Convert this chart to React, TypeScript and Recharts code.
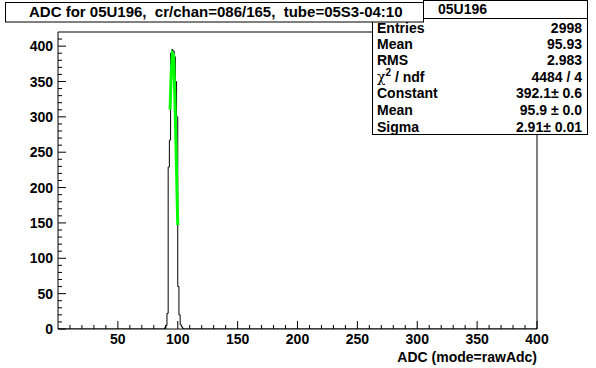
import React from "react";
import {
  ComposedChart,
  Line,
  XAxis,
  YAxis,
  ReferenceArea,
} from "recharts";

// histogram bins (lower edge) and counts, width 1 ADC
const binEdges = [89, 90, 91, 92, 93, 94, 95, 96, 97, 98, 99, 100, 101, 102, 103, 104, 105];
const binCounts = [2, 5, 22, 229, 267, 390, 395, 393, 385, 350, 300, 60, 20, 6, 3, 1, 0];

// gaussian fit curve as drawn
const fitX = [93.6, 94.5, 95.5, 96.5, 97.5, 98.5, 99.5, 100];
const fitY = [310, 360, 390, 388, 335, 262, 185, 147];

const xTicks = Array.from({ length: 40 }, (_, i) => (i + 1) * 10);
const yTicks = Array.from({ length: 42 }, (_, i) => i * 10);

const statLabels = ["Entries", "Mean", "RMS", "chi", "Constant", "Mean", "Sigma"];
const statValues = ["2998", "95.93", "2.983", "4484 / 4", "392.1\u00b1 0.6", "95.9 \u00b1 0.0", "2.91\u00b1 0.01"];

const histData = [
  { x: 0, y: 0 },
  ...binEdges.map((x, i) => ({ x, y: binCounts[i] })),
  { x: 400, y: 0 },
];
const fitData = fitX.map((x, i) => ({ x, y: fitY[i] }));

const FONT = "'Liberation Sans', Arial, sans-serif";

const XTick = (props: any) => {
  const { x, y, payload } = props;
  const major = payload.value % 50 === 0;
  return (
    <g>
      <line x1={x} x2={x} y1={y} y2={y - (major ? 8 : 4)} stroke="#000" />
      {major && (
        <text x={x} y={y + 15} textAnchor="middle" fontSize={14} fontWeight="bold" fontFamily={FONT} fill="#000">
          {payload.value}
        </text>
      )}
    </g>
  );
};

const YTick = (props: any) => {
  const { x, y, payload } = props;
  const major = payload.value % 50 === 0;
  return (
    <g>
      <line x1={x} x2={x + (major ? 8 : 4)} y1={y} y2={y} stroke="#000" />
      {major && (
        <text x={x - 5} y={y + 5} textAnchor="end" fontSize={14} fontWeight="bold" fontFamily={FONT} fill="#000">
          {payload.value}
        </text>
      )}
    </g>
  );
};

const App: React.FC = () => {
  const rowY = [32.5, 48.5, 65, 81.5, 98, 115, 132];
  return (
    <div style={{ position: "relative", width: 596, height: 368, background: "#fff" }}>
      <style>{`body{margin:0;}`}</style>
      <ComposedChart
        width={596}
        height={368}
        margin={{ top: 32, right: 59, bottom: 0, left: 8 }}
      >
        <XAxis
          type="number"
          dataKey="x"
          domain={[0, 400]}
          ticks={xTicks}
          interval={0}
          tickSize={0}
          tickMargin={0}
          tickLine={false}
          axisLine={false}
          tick={<XTick />}
          height={39}
          allowDataOverflow
        />
        <YAxis
          type="number"
          dataKey="y"
          domain={[0, 420]}
          ticks={yTicks}
          interval={0}
          tickSize={0}
          tickMargin={0}
          tickLine={false}
          axisLine={false}
          tick={<YTick />}
          width={50}
          allowDataOverflow
        />
        <ReferenceArea x1={0} x2={400} y1={0} y2={420} fill="none" fillOpacity={0} stroke="#000" strokeWidth={1} />
        <Line
          data={histData}
          dataKey="y"
          type="stepAfter"
          stroke="#000"
          strokeWidth={1}
          dot={false}
          isAnimationActive={false}
        />
        <Line
          data={fitData}
          dataKey="y"
          type="linear"
          stroke="#00ff00"
          strokeWidth={3}
          dot={false}
          isAnimationActive={false}
        />
      </ComposedChart>
      <svg
        width={596}
        height={368}
        style={{ position: "absolute", left: 0, top: 0, pointerEvents: "none" }}
        fontFamily={FONT}
        fontWeight="bold"
      >
        <text x={537} y={362} textAnchor="end" fontSize={14} fill="#000">
          ADC (mode=rawAdc)
        </text>
        {/* stats box */}
        <rect x={372.5} y={18.5} width={215} height={116} fill="#fff" stroke="#000" />
        {statLabels.map((l, i) => (
          <text key={"l" + i} x={377} y={rowY[i]} fontSize={14} fill="#000">
            {l === "chi" ? (
              <>
                <tspan fontWeight="normal" fontFamily="'DejaVu Serif', serif">{"\u03c7"}</tspan>
                <tspan dy={-6} fontSize={10}>2</tspan>
                <tspan dy={6}>{" / ndf"}</tspan>
              </>
            ) : (
              l
            )}
          </text>
        ))}
        {statValues.map((v, i) => (
          <text key={"v" + i} x={582} y={rowY[i]} textAnchor="end" fontSize={14} fill="#000">
            {v}
          </text>
        ))}
        <rect x={423.5} y={0.5} width={164} height={18} fill="#fff" stroke="#000" />
        <text x={438} y={14} fontSize={14} fill="#000">05U196</text>
        {/* title box */}
        <rect x={5.5} y={2.5} width={418} height={19.5} fill="#fff" stroke="#000" />
        <text x={29} y={17} fontSize={15} fill="#000" xmlSpace="preserve">
          ADC for 05U196,  cr/chan=086/165,  tube=05S3-04:10
        </text>
      </svg>
    </div>
  );
};

export default App;
